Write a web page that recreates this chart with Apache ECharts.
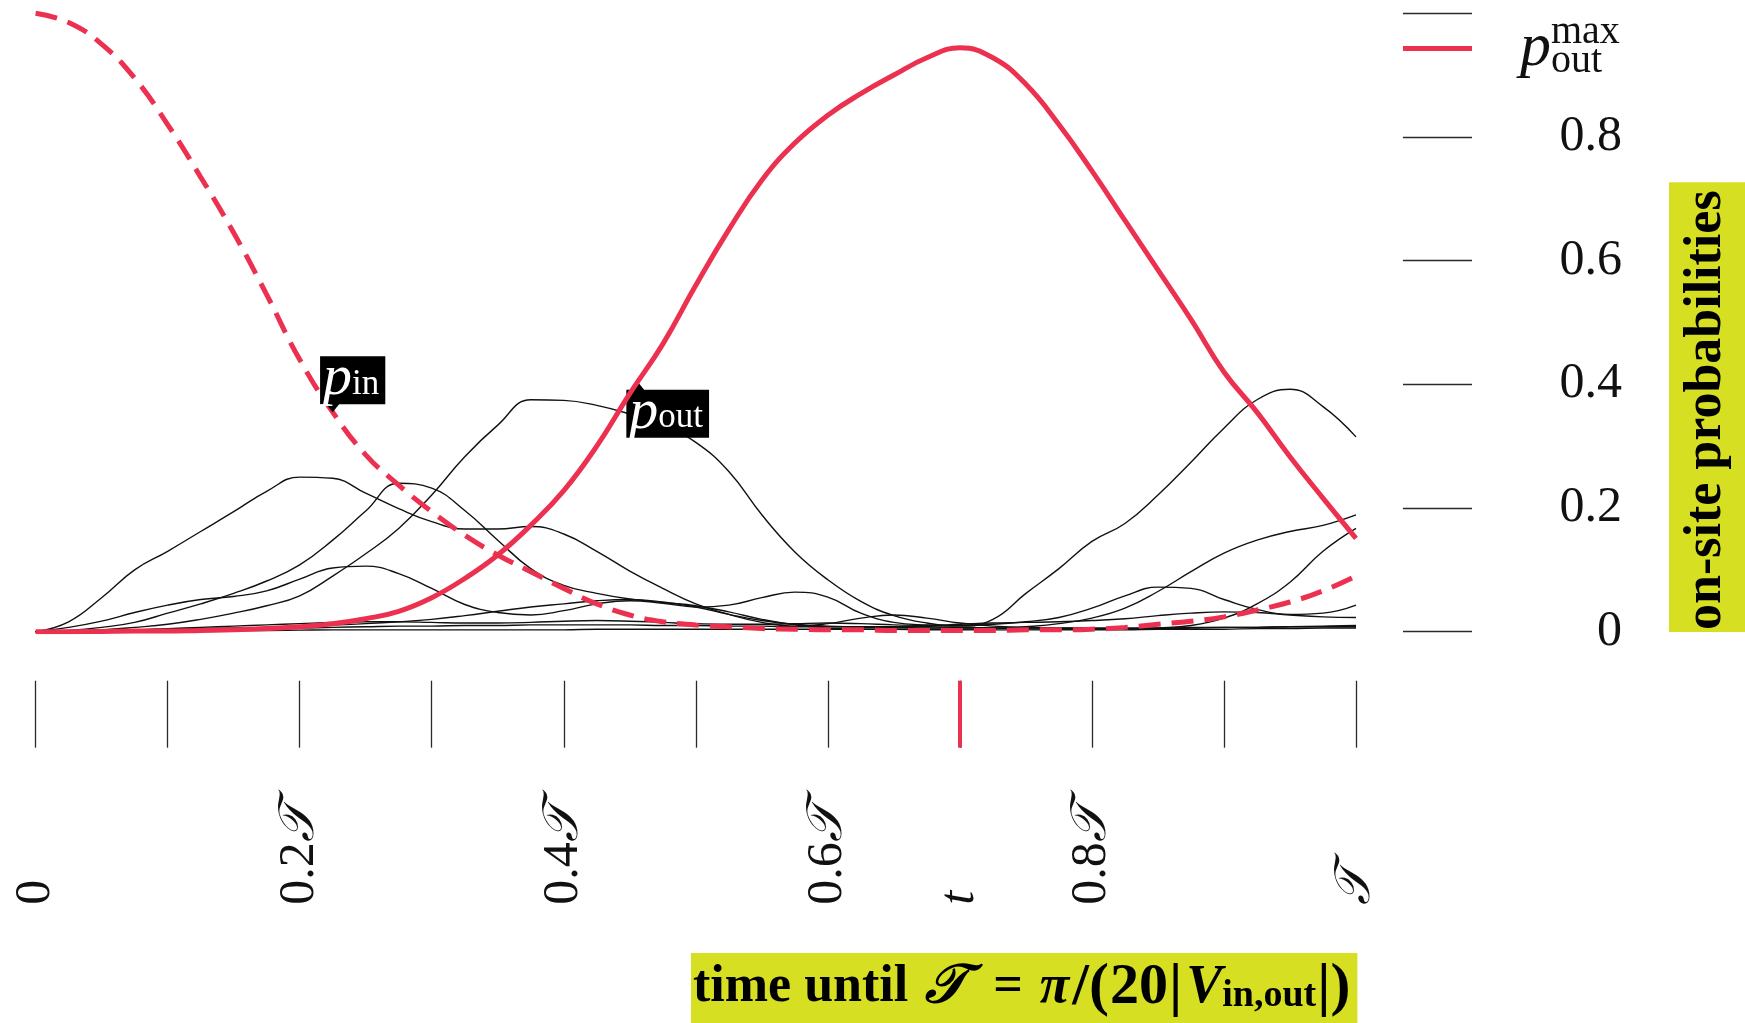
<!DOCTYPE html>
<html>
<head>
<meta charset="utf-8">
<script src="https://cdn.jsdelivr.net/npm/echarts@6/dist/echarts.min.js"></script>
<style>
  html, body { margin: 0; padding: 0; background: #fff; }
  #chart { width: 1745px; height: 1023px; }
</style>
</head>
<body>
<div id="chart"></div>
<script>
// sample times, in units of the transfer time
const tGrid = [0, 0.025, 0.05, 0.075, 0.1, 0.125, 0.15, 0.175, 0.2, 0.225, 0.25, 0.275, 0.3, 0.325, 0.35, 0.375, 0.4, 0.425, 0.45, 0.475, 0.5,
  0.525, 0.55, 0.575, 0.6, 0.625, 0.65, 0.675, 0.7, 0.725, 0.75, 0.775, 0.8, 0.825, 0.85, 0.875, 0.9, 0.925, 0.95, 0.975, 1.0];

// occupation of the input site
const pIn = [1.0, 0.985, 0.95, 0.895, 0.82, 0.735, 0.645, 0.545, 0.44, 0.355, 0.286, 0.237, 0.194, 0.156, 0.124, 0.097, 0.07, 0.045, 0.027, 0.016, 0.011,
  0.008, 0.005, 0.004, 0.003, 0.003, 0.002, 0.002, 0.002, 0.002, 0.003, 0.003, 0.004, 0.007, 0.012, 0.017, 0.024, 0.035, 0.048, 0.066, 0.09];

// occupation of the output site
const pOut = [0, 0, 0.0005, 0.001, 0.001, 0.002, 0.003, 0.005, 0.008, 0.013, 0.021, 0.033, 0.055, 0.086, 0.124, 0.172, 0.228, 0.3, 0.385, 0.465, 0.56,
  0.65, 0.73, 0.79, 0.835, 0.87, 0.9, 0.928, 0.944, 0.928, 0.885, 0.82, 0.745, 0.665, 0.585, 0.505, 0.42, 0.355, 0.283, 0.216, 0.151];

// occupation of the remaining sites
const siteA = [0, 0.016, 0.055, 0.1, 0.13, 0.162, 0.194, 0.227, 0.25, 0.248, 0.224, 0.199, 0.178, 0.166, 0.166, 0.17, 0.158, 0.13, 0.098, 0.07, 0.045,
  0.028, 0.015, 0.009, 0.013, 0.022, 0.027, 0.022, 0.014, 0.009, 0.007, 0.006, 0.005, 0.005, 0.005, 0.006, 0.007, 0.007, 0.008, 0.009, 0.01];
const siteB = [0, 0.002, 0.007, 0.015, 0.03, 0.045, 0.062, 0.082, 0.108, 0.148, 0.195, 0.24, 0.232, 0.196, 0.148, 0.102, 0.075, 0.062, 0.053, 0.047, 0.042,
  0.032, 0.02, 0.011, 0.006, 0.004, 0.004, 0.004, 0.004, 0.005, 0.008, 0.013, 0.022, 0.038, 0.065, 0.097, 0.127, 0.148, 0.162, 0.172, 0.189];
const siteC = [0, 0.007, 0.017, 0.031, 0.043, 0.052, 0.057, 0.066, 0.085, 0.103, 0.106, 0.094, 0.07, 0.044, 0.031, 0.027, 0.034, 0.045, 0.05, 0.046, 0.04,
  0.043, 0.055, 0.064, 0.056, 0.03, 0.015, 0.011, 0.01, 0.012, 0.016, 0.023, 0.038, 0.058, 0.072, 0.07, 0.052, 0.036, 0.028, 0.03, 0.043];
const siteD = [0, 0.001, 0.003, 0.007, 0.012, 0.02, 0.03, 0.042, 0.058, 0.09, 0.126, 0.167, 0.221, 0.283, 0.334, 0.375, 0.374, 0.366, 0.352, 0.334, 0.306,
  0.259, 0.189, 0.129, 0.084, 0.049, 0.026, 0.014, 0.009, 0.02, 0.062, 0.102, 0.146, 0.175, 0.221, 0.274, 0.329, 0.375, 0.392, 0.364, 0.315];
const siteE = [0, 0.001, 0.002, 0.003, 0.004, 0.005, 0.006, 0.007, 0.009, 0.011, 0.013, 0.016, 0.02, 0.026, 0.033, 0.04, 0.045, 0.05, 0.052, 0.048, 0.04,
  0.028, 0.018, 0.012, 0.009, 0.008, 0.008, 0.008, 0.007, 0.006, 0.005, 0.004, 0.004, 0.004, 0.006, 0.01, 0.022, 0.045, 0.08, 0.13, 0.167];
const siteF = [0, 0.001, 0.002, 0.003, 0.005, 0.007, 0.009, 0.011, 0.013, 0.015, 0.016, 0.016, 0.015, 0.014, 0.014, 0.015, 0.017, 0.018, 0.017, 0.015, 0.013,
  0.012, 0.012, 0.013, 0.014, 0.013, 0.011, 0.01, 0.012, 0.014, 0.015, 0.016, 0.018, 0.021, 0.026, 0.03, 0.032, 0.031, 0.027, 0.024, 0.023];
const siteG = [0, 0.0005, 0.001, 0.0015, 0.002, 0.003, 0.004, 0.005, 0.006, 0.007, 0.008, 0.009, 0.009, 0.01, 0.01, 0.011, 0.011, 0.011, 0.011, 0.01, 0.01,
  0.009, 0.009, 0.008, 0.008, 0.007, 0.007, 0.006, 0.006, 0.006, 0.006, 0.006, 0.006, 0.006, 0.006, 0.007, 0.007, 0.007, 0.008, 0.008, 0.008];
const siteH = [0, 0, 0.0005, 0.001, 0.001, 0.0015, 0.002, 0.002, 0.0025, 0.003, 0.003, 0.003, 0.003, 0.003, 0.003, 0.003, 0.003, 0.004, 0.004, 0.004, 0.004,
  0.004, 0.004, 0.004, 0.004, 0.004, 0.004, 0.003, 0.003, 0.003, 0.003, 0.003, 0.003, 0.003, 0.004, 0.004, 0.004, 0.005, 0.005, 0.006, 0.006];

// tick labels (every 0.1 on the time axis, every 0.2 on the probability axis)
const xTickText = ['0', '', '0.2𝒯', '', '0.4𝒯', '', '0.6𝒯', 't', '0.8𝒯', '', '𝒯'];
const yTickText = ['0', '0.2', '0.4', '0.6', '0.8', ''];

// where the two site tags point
const pInTagT = 0.225;
const pOutTagT = 0.456;

const SERIF = "'Liberation Serif', 'DejaVu Serif', serif";
const RED = '#ec3150';
const INK = '#111';
const TICK = '#2a2a2a';

const xy = arr => tGrid.map((t, i) => [t, arr[i]]);
const valueAt = (arr, t) => {
  for (let i = 1; i < tGrid.length; i++) {
    if (t <= tGrid[i]) {
      const f = (t - tGrid[i - 1]) / (tGrid[i] - tGrid[i - 1]);
      return arr[i - 1] + f * (arr[i] - arr[i - 1]);
    }
  }
  return arr[arr.length - 1];
};

const pMax = Math.max(...pOut);
const tMax = tGrid[pOut.indexOf(pMax)];

const richTick = {
  n: { fontFamily: SERIF, fontSize: 50, color: INK },
  it: { fontFamily: SERIF, fontSize: 50, fontStyle: 'italic', color: INK }
};
const fmtTick = s => {
  if (!s) return '';
  if (s === 't') return '{it|t}';
  if (s.indexOf('𝒯') < 0) return s;
  const num = s.replace('𝒯', '');
  return (num ? '{n|' + num + '}' : '') + '{it|𝒯}';
};

const blackSeries = [siteA, siteB, siteC, siteD, siteE, siteF, siteG, siteH].map(arr => ({
  type: 'line',
  data: xy(arr),
  symbol: 'none',
  smooth: 0.45,
  silent: true,
  z: 2,
  lineStyle: { color: INK, width: 1.4 }
}));

const tagLabel = (sub) => ({
  show: true,
  formatter: '{p|p}{s|' + sub + '}',
  backgroundColor: '#000',
  padding: [0, 6, 2, 3],
  rich: {
    p: { fontFamily: SERIF, fontStyle: 'italic', fontSize: 58, color: '#fff', lineHeight: 46 },
    s: { fontFamily: SERIF, fontSize: 35, color: '#fff', lineHeight: 22, verticalAlign: 'bottom' }
  }
});

const axisBase = {
  axisLine: { show: false, onZero: false },
  splitLine: { show: false }
};

const chart = echarts.init(document.getElementById('chart'), null, { renderer: 'canvas' });

chart.setOption({
  animation: false,
  backgroundColor: '#fff',
  grid: { left: 35.6, right: 389, top: 13.2, bottom: 391.3, outerBoundsMode: 'none' },
  xAxis: [
    Object.assign({
      type: 'value', min: 0, max: 1, interval: 0.1, offset: 49, position: 'bottom',
      axisTick: { show: true, length: 67, lineStyle: { color: TICK, width: 1.3 } },
      axisLabel: {
        show: true, rotate: 90, align: 'left', verticalAlign: 'middle', margin: 224,
        fontFamily: SERIF, fontSize: 50, color: INK,
        formatter: v => fmtTick(xTickText[Math.round(v * 10)]),
        rich: richTick
      }
    }, axisBase),
    Object.assign({
      type: 'value', min: 0, max: 1, offset: 49, position: 'bottom',
      axisTick: { show: true, customValues: [tMax], length: 67, lineStyle: { color: RED, width: 4 } },
      axisLabel: { show: false }
    }, axisBase)
  ],
  yAxis: [
    Object.assign({
      type: 'value', min: 0, max: 1, interval: 0.2, position: 'right', offset: 47,
      axisTick: { show: true, length: 69, lineStyle: { color: TICK, width: 1.3 } },
      axisLabel: {
        show: true, align: 'right', margin: 219,
        fontFamily: SERIF, fontSize: 50, color: INK,
        formatter: v => yTickText[Math.round(v * 5)]
      }
    }, axisBase),
    Object.assign({
      type: 'value', min: 0, max: 1, position: 'right', offset: 47,
      axisTick: { show: true, customValues: [pMax], length: 69, lineStyle: { color: RED, width: 5 } },
      axisLabel: {
        show: true, customValues: [pMax], align: 'left', verticalAlign: 'middle', margin: 117,
        formatter: () => '{p|p}{sup|max}\n{pg|p}{sub|out}',
        rich: {
          p: { fontFamily: SERIF, fontStyle: 'italic', fontSize: 62, color: INK, lineHeight: 40, padding: [4, 0, 0, 0] },
          sup: { fontFamily: SERIF, fontSize: 40, color: INK, lineHeight: 40, padding: [0, 0, 29, 0] },
          pg: { fontFamily: SERIF, fontStyle: 'italic', fontSize: 62, color: 'rgba(0,0,0,0)', lineHeight: 2 },
          sub: { fontFamily: SERIF, fontSize: 40, color: INK, lineHeight: 2, padding: [0, 0, 13, 0] }
        }
      }
    }, axisBase)
  ],
  graphic: [
    {
      type: 'text', x: 1707, y: 632, rotation: Math.PI / 2, z: 10,
      style: {
        text: 'on-site probabilities',
        font: 'bold 52px ' + SERIF,
        fill: '#000',
        align: 'left', verticalAlign: 'middle',
        textAlign: 'left', textVerticalAlign: 'middle',
        backgroundColor: '#d6df22',
        padding: [12, 8, 12, 2]
      }
    },
    {
      type: 'text', x: 691, y: 1023, z: 10,
      style: {
        text: '{b|time until }{T|𝒯}{b| = }{pi|π}{d|/(}{n|20}{d||}{V|V}{s|in,out}{d||)}',
        fill: '#000',
        align: 'left', verticalAlign: 'bottom',
        textAlign: 'left', textVerticalAlign: 'bottom',
        backgroundColor: '#d6df22',
        padding: [8, 6, 8, 2],
        rich: {
          b: { fontFamily: SERIF, fontWeight: 'bold', fontSize: 52, lineHeight: 54 },
          T: { fontFamily: SERIF, fontWeight: 'bold', fontStyle: 'italic', fontSize: 54, lineHeight: 54, padding: [0, 14, 0, 4] },
          pi: { fontFamily: SERIF, fontWeight: 'bold', fontStyle: 'italic', fontSize: 54, lineHeight: 54, padding: [0, 2, 0, 4] },
          V: { fontFamily: SERIF, fontWeight: 'bold', fontStyle: 'italic', fontSize: 54, lineHeight: 54, padding: [0, 0, 0, 3] },
          n: { fontFamily: SERIF, fontWeight: 'bold', fontSize: 58, lineHeight: 54 },
          d: { fontFamily: SERIF, fontWeight: 'bold', fontSize: 60, lineHeight: 54, padding: [0, 1, 0, 1] },
          s: { fontFamily: SERIF, fontWeight: 'bold', fontSize: 38, lineHeight: 34, verticalAlign: 'bottom' }
        }
      }
    }
  ],
  series: [
    ...blackSeries,
    {
      type: 'line',
      name: 'p_in',
      data: xy(pIn),
      symbol: 'none',
      smooth: 0.45,
      z: 4,
      lineStyle: { color: RED, width: 5, type: [22, 11] },
      markPoint: {
        symbol: 'triangle', symbolSize: [16, 10], symbolRotate: 180, symbolOffset: [0, -5],
        itemStyle: { color: '#000' },
        label: Object.assign(tagLabel('in'), { position: 'top', distance: 0, offset: [20, 2] }),
        data: [{ coord: [pInTagT, valueAt(pIn, pInTagT)] }]
      }
    },
    {
      type: 'line',
      name: 'p_out',
      data: xy(pOut),
      symbol: 'none',
      smooth: 0.45,
      z: 5,
      lineStyle: { color: RED, width: 5 },
      markPoint: {
        symbol: 'triangle', symbolSize: [16, 10], symbolOffset: [0, 5],
        itemStyle: { color: '#000' },
        label: Object.assign(tagLabel('out'), { position: 'bottom', distance: 0, offset: [30, -2] }),
        data: [{ coord: [pOutTagT, valueAt(pOut, pOutTagT)] }]
      }
    }
  ]
});
</script>
</body>
</html>
